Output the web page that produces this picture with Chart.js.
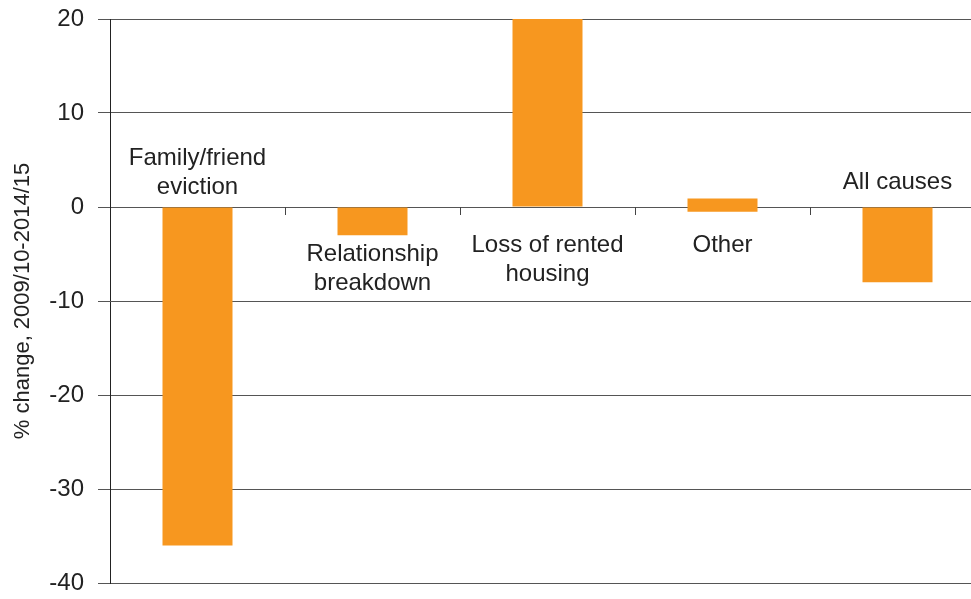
<!DOCTYPE html>
<html>
<head>
<meta charset="utf-8">
<script src="https://cdn.jsdelivr.net/npm/chart.js@4"></script>
<style>
  html, body { margin: 0; padding: 0; background: #fff; overflow: hidden; }
</style>
</head>
<body>
<canvas id="chart" width="985" height="599"></canvas>
<script>
const categories = ['Family/friend eviction', 'Relationship breakdown', 'Loss of rented housing', 'Other', 'All causes'];
const labelLines = [['Family/friend', 'eviction'], ['Relationship', 'breakdown'], ['Loss of rented', 'housing'], ['Other'], ['All causes']];
const changes = [[0, -36], [0, -3], [0, 20], [-0.5, 0.9], [0, -8]];
const yTicks = [20, 10, 0, -10, -20, -30, -40];

const FONT = 'Liberation Sans, Arial, Helvetica, sans-serif';
const ctx = document.getElementById('chart').getContext('2d');

// labels inside the plot + small separator ticks on the zero line
const annotations = {
  id: 'annotations',
  afterDatasetsDraw(chart) {
    const { ctx, scales: { x, y } } = chart;
    const zero = y.getPixelForValue(0);
    const half = (x.getPixelForValue(1) - x.getPixelForValue(0)) / 2;
    ctx.save();
    ctx.strokeStyle = '#444';
    ctx.lineWidth = 1;
    for (let i = 1; i < categories.length; i++) {
      const px = Math.round(x.getPixelForValue(i) - half) + 0.5;
      ctx.beginPath();
      ctx.moveTo(px, zero);
      ctx.lineTo(px, zero + 8);
      ctx.stroke();
    }
    // first-line position of each label, in axis units
    const labelAt = [5.2, -5.0, -4.1, -4.1, 2.6];
    ctx.fillStyle = '#222';
    ctx.font = '24px ' + FONT;
    ctx.textAlign = 'center';
    ctx.textBaseline = 'middle';
    labelLines.forEach((lines, i) => {
      const cx = x.getPixelForValue(i);
      const top = y.getPixelForValue(labelAt[i]);
      lines.forEach((t, j) => ctx.fillText(t, cx, top + j * 29));
    });
    ctx.restore();
  }
};

new Chart(ctx, {
  type: 'bar',
  data: {
    labels: categories,
    datasets: [{
      data: changes,
      backgroundColor: '#F7971F',
      borderWidth: 0,
      categoryPercentage: 1,
      barPercentage: 0.4
    }]
  },
  options: {
    animation: false,
    responsive: false,
    layout: { padding: { top: 19, bottom: 16, left: 0, right: 0 } },
    plugins: { legend: { display: false }, tooltip: { enabled: false } },
    scales: {
      x: { display: false },
      y: {
        min: -40,
        max: 20,
        afterBuildTicks: (s) => { s.ticks = yTicks.map(v => ({ value: v })); },
        afterFit: (s) => { s.width = 110; s.paddingTop = 0; s.paddingBottom = 0; },
        border: { display: true, color: '#222', width: 1 },
        grid: { color: '#555', lineWidth: 1, tickLength: 12, drawTicks: true },
        ticks: { color: '#222', font: { family: FONT, size: 24 }, padding: 14 },
        title: {
          display: true,
          text: '% change, 2009/10-2014/15',
          color: '#222',
          font: { family: FONT, size: 22 },
          padding: { top: 10, bottom: 0 }
        }
      }
    }
  },
  plugins: [annotations]
});
</script>
</body>
</html>
